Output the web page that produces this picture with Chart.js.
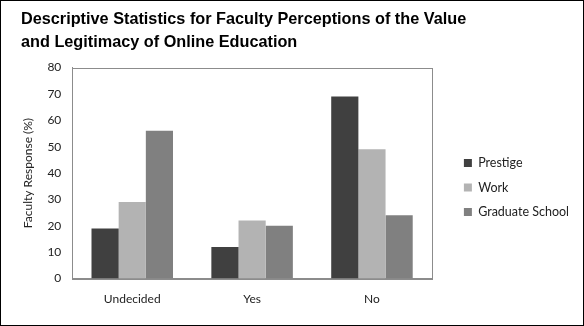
<!DOCTYPE html>
<html>
<head>
<meta charset="utf-8">
<script src="https://cdn.jsdelivr.net/npm/chart.js@4/dist/chart.umd.min.js"></script>
<style>
    html, body { margin: 0; padding: 0; background: #fff; }
    #wrap { width: 584px; height: 326px; box-sizing: border-box; border: 1px solid #000; position: relative; }
</style>
</head>
<body>
<div id="wrap"><canvas id="canvas-1"></canvas></div>
<script>
    'use strict';

    // survey answers on the x axis
    var categories = ['Undecided', 'Yes', 'No'];
    // percentage of faculty giving each answer
    var prestige = [19, 12, 69];
    var work = [29, 22, 49];
    var gradSchool = [56, 20, 24];
    var yTicks = [0, 10, 20, 30, 40, 50, 60, 70, 80];

    var labelFont = { family: 'Lato, "Open Sans", sans-serif', size: 12 };

    // box around the plot area (top, right, left, bottom)
    var plotFrame = {
        id: 'plotFrame',
        afterLayout: function (chart) {
            // push the legend away from the plot, a bit lower too
            chart.legend.left += 20;
            chart.legend.right += 20;
            chart.legend.top += 24;
            chart.legend.bottom += 24;
        },
        afterDatasetsDraw: function (chart) {
            var a = chart.chartArea, ctx = chart.ctx;
            ctx.save();
            ctx.strokeStyle = '#8c8c8c';
            ctx.lineWidth = 1;
            ctx.strokeRect(Math.round(a.left) + 0.5, Math.round(a.top) + 0.5,
                Math.round(a.right - a.left), Math.round(a.bottom - a.top));
            ctx.restore();
        }
    };

    var barData = {
        labels: categories,
        datasets: [
            { label: 'Prestige', backgroundColor: '#404040', data: prestige },
            { label: 'Work', backgroundColor: '#b3b3b3', data: work },
            { label: 'Graduate School', backgroundColor: '#808080', data: gradSchool }
        ]
    };

    var ctx = document.getElementById('canvas-1');
    var chart = new Chart(ctx, {
        type: 'bar',
        data: barData,
        plugins: [plotFrame],
        options: {
            responsive: true,
            maintainAspectRatio: false,
            animation: false,
            layout: { padding: { left: 20, right: 24, top: 7, bottom: 6 } },
            datasets: {
                bar: { categoryPercentage: 0.68, barPercentage: 1.0 }
            },
            plugins: {
                title: {
                    display: true,
                    align: 'start',
                    text: ['Descriptive Statistics for Faculty Perceptions of the Value',
                           'and Legitimacy of Online Education'],
                    color: '#000',
                    font: { family: '"Liberation Sans", Arial, sans-serif', size: 16.25, weight: 'bold', lineHeight: 1.4 },
                    padding: { top: 0, bottom: 14 }
                },
                legend: {
                    position: 'right',
                    labels: {
                        boxWidth: 8,
                        boxHeight: 8,
                        padding: 12,
                        color: '#222',
                        font: { family: labelFont.family, size: 12.5 }
                    }
                },
                tooltip: { enabled: false }
            },
            scales: {
                x: {
                    grid: { display: false, drawTicks: false },
                    border: { color: '#8c8c8c' },
                    ticks: { color: '#222', font: labelFont, padding: 13 }
                },
                y: {
                    min: 0,
                    max: 80,
                    afterBuildTicks: function (axis) {
                        axis.ticks = yTicks.map(function (v) { return { value: v }; });
                    },
                    grid: { display: false, drawTicks: false },
                    border: { color: '#8c8c8c' },
                    ticks: { color: '#222', font: labelFont, padding: 11 },
                    title: {
                        display: true,
                        text: 'Faculty Response (%)',
                        color: '#222',
                        font: labelFont,
                        padding: { top: 0, bottom: 1 }
                    }
                }
            }
        }
    });
</script>
</body>
</html>
